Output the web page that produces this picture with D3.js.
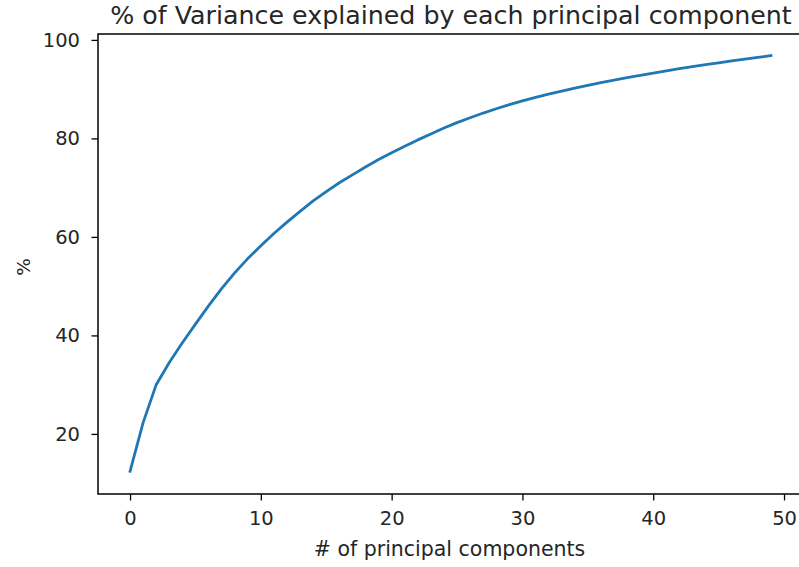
<!DOCTYPE html>
<html>
<head>
<meta charset="utf-8">
<script src="https://cdn.jsdelivr.net/npm/d3@7"></script>
<style>
  html, body { margin: 0; padding: 0; background: #fff; }
  svg { display: block; font-family: "DejaVu Sans", sans-serif; }
</style>
</head>
<body>
<svg id="chart" width="799" height="567"></svg>
<script>
// Cumulative share of variance (%) explained by the first n principal components
const components = d3.range(0, 50);
const cumulativeVariance = [
  12.4, 22.3, 30.0, 34.5, 38.5, 42.3, 46.0, 49.5, 52.7, 55.6,
  58.2, 60.7, 63.0, 65.2, 67.3, 69.2, 71.0, 72.6, 74.2, 75.7,
  77.1, 78.4, 79.7, 80.9, 82.1, 83.2, 84.2, 85.15, 86.03, 86.85,
  87.61, 88.32, 88.99, 89.62, 90.22, 90.79, 91.33, 91.84, 92.33, 92.8,
  93.27, 93.72, 94.15, 94.56, 94.96, 95.35, 95.73, 96.1, 96.46, 96.81
];
const xTicks = [0, 10, 20, 30, 40, 50];
const yTicks = [20, 40, 60, 80, 100];

const titleText = "% of Variance explained by each principal component";
const xLabelText = "# of principal components";
const yLabelText = "%";

const svg = d3.select("#chart");
const W = 799, H = 567;
const plot = { left: 98, right: 803, top: 34, bottom: 494 };

svg.append("rect").attr("width", W).attr("height", H).attr("fill", "#fff");

// 5% padding around the data range on the x axis
const xExt = d3.extent(components);
const xPad = (xExt[1] - xExt[0]) * 0.05;
const x = d3.scaleLinear()
  .domain([xExt[0] - xPad, xExt[1] + xPad])
  .range([plot.left, plot.right]);

const y = d3.scaleLinear()
  .domain([7.8, 101.2])
  .range([plot.bottom, plot.top]);

const tickFont = 19.5;
const textColor = "#262626";

// x axis
const xAxis = svg.append("g")
  .attr("transform", `translate(0,${plot.bottom})`)
  .call(d3.axisBottom(x).tickValues(xTicks).tickSize(6.5).tickPadding(11).tickFormat(d3.format("d")));
xAxis.select(".domain").remove();
xAxis.selectAll(".tick line").attr("stroke", "#000").attr("stroke-width", 1.3);
xAxis.selectAll(".tick text")
  .attr("font-size", tickFont).attr("fill", textColor)
  .attr("font-family", "DejaVu Sans");

// y axis
const yAxis = svg.append("g")
  .attr("transform", `translate(${plot.left},0)`)
  .call(d3.axisLeft(y).tickValues(yTicks).tickSize(6.5).tickPadding(11.5).tickFormat(d3.format("d")));
yAxis.select(".domain").remove();
yAxis.selectAll(".tick line").attr("stroke", "#000").attr("stroke-width", 1.3);
yAxis.selectAll(".tick text")
  .attr("font-size", tickFont).attr("fill", textColor)
  .attr("font-family", "DejaVu Sans");

// the data line, clipped to the axes box
svg.append("clipPath").attr("id", "plotClip")
  .append("rect")
  .attr("x", plot.left).attr("y", plot.top)
  .attr("width", plot.right - plot.left).attr("height", plot.bottom - plot.top);

const line = d3.line()
  .x((d, i) => x(components[i]))
  .y(d => y(d));

svg.append("path")
  .datum(cumulativeVariance)
  .attr("clip-path", "url(#plotClip)")
  .attr("fill", "none")
  .attr("stroke", "#1f77b4")
  .attr("stroke-width", 2.8)
  .attr("stroke-linejoin", "round")
  .attr("stroke-linecap", "square")
  .attr("d", line);

// axes frame
svg.append("rect")
  .attr("x", plot.left).attr("y", plot.top)
  .attr("width", plot.right - plot.left).attr("height", plot.bottom - plot.top)
  .attr("fill", "none").attr("stroke", "#000").attr("stroke-width", 1.5);

// title and axis labels
svg.append("text")
  .attr("x", 451).attr("y", 23.5)
  .attr("text-anchor", "middle")
  .attr("font-size", 25.3).attr("fill", textColor)
  .text(titleText);

svg.append("text")
  .attr("x", 449.5).attr("y", 556)
  .attr("text-anchor", "middle")
  .attr("font-size", 20.5).attr("fill", textColor)
  .text(xLabelText);

svg.append("text")
  .attr("transform", `translate(30,267) rotate(-90)`)
  .attr("text-anchor", "middle")
  .attr("font-size", 18.5).attr("fill", textColor)
  .text(yLabelText);
</script>
</body>
</html>
